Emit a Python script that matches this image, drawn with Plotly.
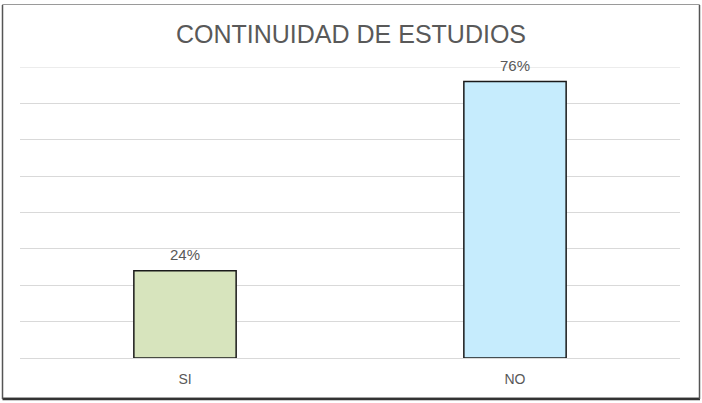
import plotly.graph_objects as go

categories = ["SI", "NO"]
values = [0.24, 0.76]
labels = ["24%", "76%"]
colors = ["#D7E4BD", "#C6ECFD"]
axis_max = 0.8

FONT = "Liberation Sans, Arial"

fig = go.Figure()
fig.add_trace(go.Bar(
    x=categories, y=values,
    marker=dict(color=colors, line=dict(color="#1a1a1a", width=1.5)),
    width=0.31,
    hoverinfo="skip",
))

for c, v, t in zip(categories, values, labels):
    fig.add_annotation(x=c, y=v, text=t, showarrow=False, yanchor="bottom", yshift=6,
                       font=dict(family=FONT, size=15, color="#595959"))

fig.update_layout(
    width=702, height=403,
    margin=dict(l=20, r=22, t=67, b=45),
    paper_bgcolor="white", plot_bgcolor="white",
    showlegend=False,
    title=dict(text="CONTINUIDAD DE ESTUDIOS", x=0.5, xanchor="center", y=1 - 34 / 403, yanchor="middle",
               font=dict(family=FONT, size=25, color="#595959")),
    xaxis=dict(showgrid=False, showline=False, zeroline=False, ticks="",
               tickfont=dict(family=FONT, size=14, color="#595959"),
               ticklabelstandoff=11),
    yaxis=dict(range=[0, axis_max], dtick=0.1, showticklabels=False, showgrid=True,
               gridcolor="#D9D9D9", gridwidth=1, zeroline=True, zerolinecolor="#D9D9D9",
               zerolinewidth=1, showline=False, ticks=""),
)

# top gridline at the axis maximum
fig.add_shape(type="line", xref="paper", yref="y", x0=0, x1=1, y0=axis_max, y1=axis_max,
              line=dict(color="#D9D9D9", width=1), layer="below")

W, H = 660, 291
def px(x): return (x - 20) / W
def py(y): return (358 - y) / H

fig.add_shape(type="rect", xref="paper", yref="paper",
              x0=px(2.5), x1=px(699.5), y0=py(398), y1=py(4.5),
              line=dict(color="#9a9a9a", width=1), layer="above")
fig.add_shape(type="line", xref="paper", yref="paper",
              x0=px(2.5), x1=px(700), y0=py(399), y1=py(399),
              line=dict(color="#333333", width=2.5), layer="above")
fig.add_shape(type="line", xref="paper", yref="paper",
              x0=px(699.5), x1=px(699.5), y0=py(399), y1=py(5),
              line=dict(color="#555555", width=1.5), layer="above")
fig.add_shape(type="line", xref="paper", yref="paper",
              x0=px(2.5), x1=px(2.5), y0=py(399), y1=py(5),
              line=dict(color="#555555", width=1.5), layer="above")

fig.write_html("out.html")
